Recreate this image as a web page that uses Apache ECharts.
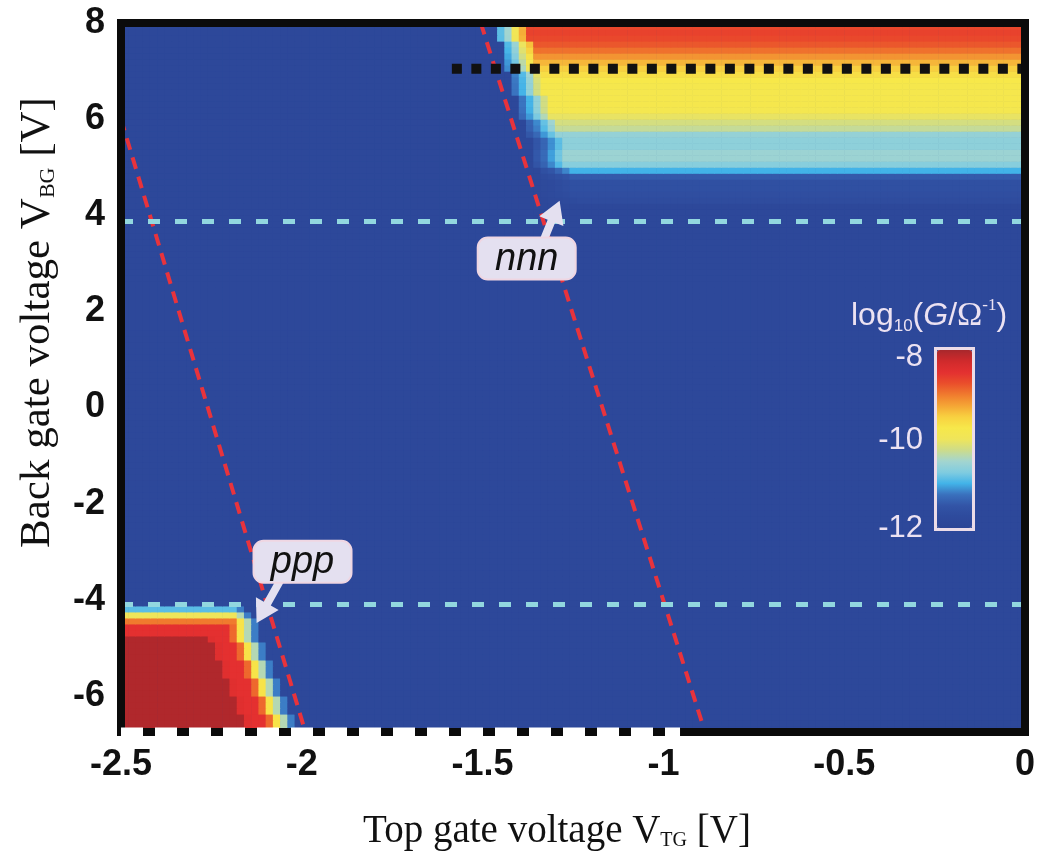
<!DOCTYPE html>
<html><head><meta charset="utf-8">
<script src="https://cdn.jsdelivr.net/npm/echarts@6/dist/echarts.min.js"></script>
<style>html,body{margin:0;padding:0;background:#fff;} #c{width:1038px;height:863px;}</style>
</head><body><div id="c"></div>
<script>
// ---- axes ----
const vtgMin = -2.5, vtgMax = 0, vbgMin = -6.75, vbgMax = 8;
const yTickValues = [-6, -4, -2, 0, 2, 4, 6, 8];
const cellVTG = 0.02, cellVBG = 0.125;
const backgroundLogG = -11.85;

// ---- nnn region (upper right): one entry per VBG row ----
const nnnRowVBG = [7.9375, 7.8125, 7.6875, 7.5625, 7.4375, 7.3125, 7.1875, 7.0625, 6.9375, 6.8125,
  6.6875, 6.5625, 6.4375, 6.3125, 6.1875, 6.0625, 5.9375, 5.8125, 5.6875, 5.5625,
  5.4375, 5.3125, 5.1875, 5.0625, 4.9375, 4.8125, 4.6875, 4.5625, 4.4375, 4.3125];
const nnnRowLogG = [-8.7, -8.65, -8.7, -8.8, -8.95, -9.15, -9.35, -9.5, -9.65, -9.75,
  -9.8, -9.8, -9.8, -9.8, -9.85, -10.05, -10.2, -10.3, -10.6, -10.65,
  -10.65, -10.55, -10.55, -10.7, -11.0, -11.45, -11.6, -11.6, -11.65, -11.7];
const nnnRowEdgeVTG = [-1.455, -1.453, -1.451, -1.449, -1.446, -1.443, -1.44, -1.435, -1.429, -1.424,
  -1.419, -1.413, -1.408, -1.402, -1.397, -1.391, -1.385, -1.38, -1.374, -1.369,
  -1.365, -1.36, -1.356, -1.352, -1.348, -1.343, -1.338, -1.334, -1.33, -1.325];
const nnnEdgeRamp = [0.3, 0.42, 0.6, 0.8];

// ---- ppp region (lower left): one entry per VBG row, top row first ----
const pppRowVBG = [-4.1875, -4.3125, -4.4375, -4.5625, -4.6875, -4.8125, -4.9375, -5.0625, -5.1875, -5.3125,
  -5.4375, -5.5625, -5.6875, -5.8125, -5.9375, -6.0625, -6.1875, -6.3125, -6.4375, -6.5625, -6.6875];
const pppRowEdgeVTG = [-2.16, -2.14, -2.13, -2.125, -2.12, -2.115, -2.108, -2.102, -2.096, -2.09,
  -2.083, -2.077, -2.07, -2.064, -2.057, -2.05, -2.043, -2.036, -2.029, -2.022, -2.015];
const pppProfileX = [-11.2, -10.4, -9.7, -8.9, -8.5, -8.5, -8.45];
const pppProfileY = [-10.9, -10.0, -9.0, -8.5, -8.5];
const pppCoreLogG = -8.05;

// ---- overlay lines ----
const redLine1VTG = [-2.5, -1.99], redLine1VBG = [6.0, -6.75];
const redLine2VTG = [-1.505, -0.885], redLine2VBG = [8.0, -6.75];
const cyanLineVBG = [3.87, -4.1];
const blackDotVBG = 7.05, blackDotVTG = [-1.585, 0];
const whiteDashVTG = [-2.5, -0.954];

// ---- annotations (data coords) ----
const nnnLabel = {text: 'nnn', center: [-1.378, 3.1], tail: [-1.33, 3.5], tip: [-1.287, 4.3]};
const pppLabel = {text: 'ppp', center: [-1.998, -3.21], tail: [-2.06, -3.6], tip: [-2.125, -4.48]};

// ---- colour scale ----
const colorStops = ['#2c4596', '#2e4a9c', '#3254a6', '#3a70bd', '#42b3e8', '#80cce0', '#a3d5d0', '#cddc8a',
  '#efe55a', '#f7e84a', '#f8d040', '#f5a535', '#f07a2e', '#ea4e2b', '#e43030', '#d02a2c', '#a8282c'];

// ---- build heat table ----
const nRows = Math.round((vbgMax - vbgMin) / cellVBG);
const nCols = Math.round((vtgMax - vtgMin) / cellVTG);
const nnnIdx = {}; nnnRowVBG.forEach((v, i) => nnnIdx[v.toFixed(4)] = i);
const pppIdx = {}; pppRowVBG.forEach((v, i) => pppIdx[v.toFixed(4)] = i);
const heatData = [];
for (let j = 0; j < nRows; j++) {
  const y = vbgMin + (j + 0.5) * cellVBG;
  const key = y.toFixed(4);
  for (let i = 0; i < nCols; i++) {
    const x = vtgMin + (i + 0.5) * cellVTG;
    let v = backgroundLogG;
    if (key in nnnIdx) {
      const k = nnnIdx[key];
      const e = nnnRowEdgeVTG[k];
      if (x >= e) {
        const d = Math.floor((x - e) / cellVTG);
        const f = d < nnnEdgeRamp.length ? nnnEdgeRamp[d] : 1;
        v = backgroundLogG + f * (nnnRowLogG[k] - backgroundLogG);
      }
    }
    if (key in pppIdx) {
      const k = pppIdx[key];
      const e = pppRowEdgeVTG[k];
      if (x <= e) {
        const dx = Math.floor((e - x) / cellVTG);
        const vx = dx < pppProfileX.length ? pppProfileX[dx] : pppCoreLogG;
        const vy = k < pppProfileY.length ? pppProfileY[k] : pppCoreLogG;
        v = Math.min(vx, vy);
      }
    }
    heatData.push([x, y, v]);
  }
}

function renderCell(params, api) {
  const x = api.value(0), y = api.value(1);
  const p0 = api.coord([x - cellVTG / 2, y + cellVBG / 2]);
  const p1 = api.coord([x + cellVTG / 2, y - cellVBG / 2]);
  return {type: 'rect', shape: {x: p0[0], y: p0[1], width: p1[0] - p0[0] + 0.6, height: p1[1] - p0[1] + 0.6},
    style: {fill: api.visual('color')}};
}

const chart = echarts.init(document.getElementById('c'), null, {renderer: 'canvas'});
const borderLine = {show: true, onZero: false, lineStyle: {color: '#0b0b0b', width: 8, cap: 'square'}};
const tickFont = {fontSize: 36, fontWeight: 'bold', fontFamily: 'Liberation Sans', color: '#111'};
function nameFont(size) {
  return {fontSize: size, fontFamily: 'Liberation Serif', color: '#111',
    rich: {sub: {fontSize: Math.round(size * 0.5), fontFamily: 'Liberation Serif', color: '#111', verticalAlign: 'bottom', lineHeight: size}}};
}

function lineSeries(xs, ys, style, z, clip) {
  return {type: 'line', data: xs.map((x, i) => [x, ys[i]]), symbol: 'none', showSymbol: false,
    lineStyle: style, z: z, silent: true, animation: false, clip: clip !== false};
}

chart.setOption({
  animation: false,
  grid: {left: 121, right: 10, top: 23, bottom: 131, show: true, backgroundColor: '#2d4799', borderWidth: 0},
  xAxis: [
    {type: 'value', min: vtgMin, max: vtgMax, interval: 0.5, position: 'bottom', z: 10,
      axisLine: borderLine, axisTick: {show: false}, splitLine: {show: false},
      axisLabel: Object.assign({margin: 15}, tickFont),
      name: 'Top gate voltage V{sub|TG} [V]', nameLocation: 'middle', nameGap: 80,
      nameTextStyle: Object.assign({padding: [0, 32, 0, 0]}, nameFont(39))},
    {type: 'value', min: vtgMin, max: vtgMax, position: 'top', z: 10,
      axisLine: borderLine, axisTick: {show: false}, splitLine: {show: false}, axisLabel: {show: false}}
  ],
  yAxis: [
    {type: 'value', min: vbgMin, max: vbgMax, position: 'left', z: 10,
      axisLine: borderLine, axisTick: {show: false}, splitLine: {show: false},
      axisLabel: Object.assign({margin: 16, customValues: yTickValues}, tickFont),
      name: 'Back gate voltage V{sub|BG} [V]', nameLocation: 'middle', nameGap: 62,
      nameTextStyle: Object.assign({padding: [0, 0, 0, 110]}, nameFont(43))},
    {type: 'value', min: vbgMin, max: vbgMax, position: 'right', z: 10,
      axisLine: borderLine, axisTick: {show: false}, splitLine: {show: false}, axisLabel: {show: false}}
  ],
  visualMap: {type: 'continuous', min: -12, max: -8, dimension: 2, seriesIndex: 0, calculable: false,
    hoverLink: false, inRange: {color: colorStops}, left: 937, top: 350, itemWidth: 35, itemHeight: 178,
    padding: 0, orient: 'vertical', showLabel: false},
  series: [
    {type: 'custom', renderItem: renderCell, data: heatData, encode: {x: 0, y: 1}, clip: true, z: 1, silent: true},
    lineSeries(redLine1VTG, redLine1VBG, {color: '#e8333c', width: 4, type: [12, 8]}, 5),
    lineSeries(redLine2VTG, redLine2VBG, {color: '#e8333c', width: 4, type: [12, 8]}, 5),
    lineSeries([vtgMin, vtgMax], [cyanLineVBG[0], cyanLineVBG[0]], {color: '#92d7df', width: 5, type: [12, 15]}, 5),
    lineSeries([vtgMin, vtgMax], [cyanLineVBG[1], cyanLineVBG[1]], {color: '#92d7df', width: 5, type: [12, 15]}, 5),
    lineSeries(blackDotVTG, [blackDotVBG, blackDotVBG], {color: '#111', width: 10, type: [10, 9.5]}, 5),
    lineSeries(whiteDashVTG, [vbgMin, vbgMin], {color: '#ffffff', width: 9, type: [22, 12]}, 20, false)
  ]
});

// ---- annotations & colour bar frame ----
function arrowPoly(P, T) {
  const dx = T[0] - P[0], dy = T[1] - P[1], len = Math.hypot(dx, dy);
  const ux = dx / len, uy = dy / len, nx = -uy, ny = ux;
  const L = 22, W = 13, s = 4;
  const B = [T[0] - ux * L, T[1] - uy * L];
  return [[P[0] + nx * s, P[1] + ny * s], [B[0] + nx * s, B[1] + ny * s], [B[0] + nx * W, B[1] + ny * W], T,
    [B[0] - nx * W, B[1] - ny * W], [B[0] - nx * s, B[1] - ny * s], [P[0] - nx * s, P[1] - ny * s]];
}
const g = [];
[nnnLabel, pppLabel].forEach(a => {
  const c = chart.convertToPixel({gridIndex: 0}, a.center);
  const t = chart.convertToPixel({gridIndex: 0}, a.tail);
  const p = chart.convertToPixel({gridIndex: 0}, a.tip);
  g.push({type: 'polygon', shape: {points: arrowPoly(t, p)}, style: {fill: '#e4e0f0'}, z: 30});
  g.push({type: 'rect', shape: {x: c[0] - 49, y: c[1] - 21, width: 98, height: 42, r: 10},
    style: {fill: '#e4e0f0', stroke: '#efd6e2', lineWidth: 2}, z: 31});
  g.push({type: 'text', x: c[0], y: c[1] + 1, style: {text: a.text, font: 'italic 38px "Liberation Sans"', fill: '#111',
    align: 'center', verticalAlign: 'middle'}, z: 32});
});
g.push({type: 'rect', shape: {x: 935.5, y: 348.5, width: 38, height: 181}, style: {fill: null, stroke: '#ecdce8', lineWidth: 3}, z: 40});
const cbLabels = [['-8', 357], ['-10', 440], ['-12', 528]];
cbLabels.forEach(l => g.push({type: 'text', x: 923, y: l[1], style: {text: l[0], font: '31px "Liberation Sans"', fill: '#ece2f2',
  align: 'right', verticalAlign: 'middle'}, z: 40}));
g.push({type: 'text', x: 851, y: 316, style: {
  text: '{n|log}{s|10}{n|(}{i|G}{n|/}{o|Ω}{p|-1}{n|)}', align: 'left', verticalAlign: 'middle',
  rich: {
    n: {font: '32px "Liberation Sans"', fill: '#ece2f2', lineHeight: 38},
    i: {font: 'italic 32px "Liberation Sans"', fill: '#ece2f2', lineHeight: 38},
    o: {font: '34px "Liberation Serif"', fill: '#ece2f2', lineHeight: 38},
    s: {font: '17px "Liberation Sans"', fill: '#ece2f2', verticalAlign: 'bottom', lineHeight: 32},
    p: {font: '17px "Liberation Serif"', fill: '#ece2f2', verticalAlign: 'top', lineHeight: 38}
  }}, z: 40});
chart.setOption({graphic: g});
</script></body></html>
